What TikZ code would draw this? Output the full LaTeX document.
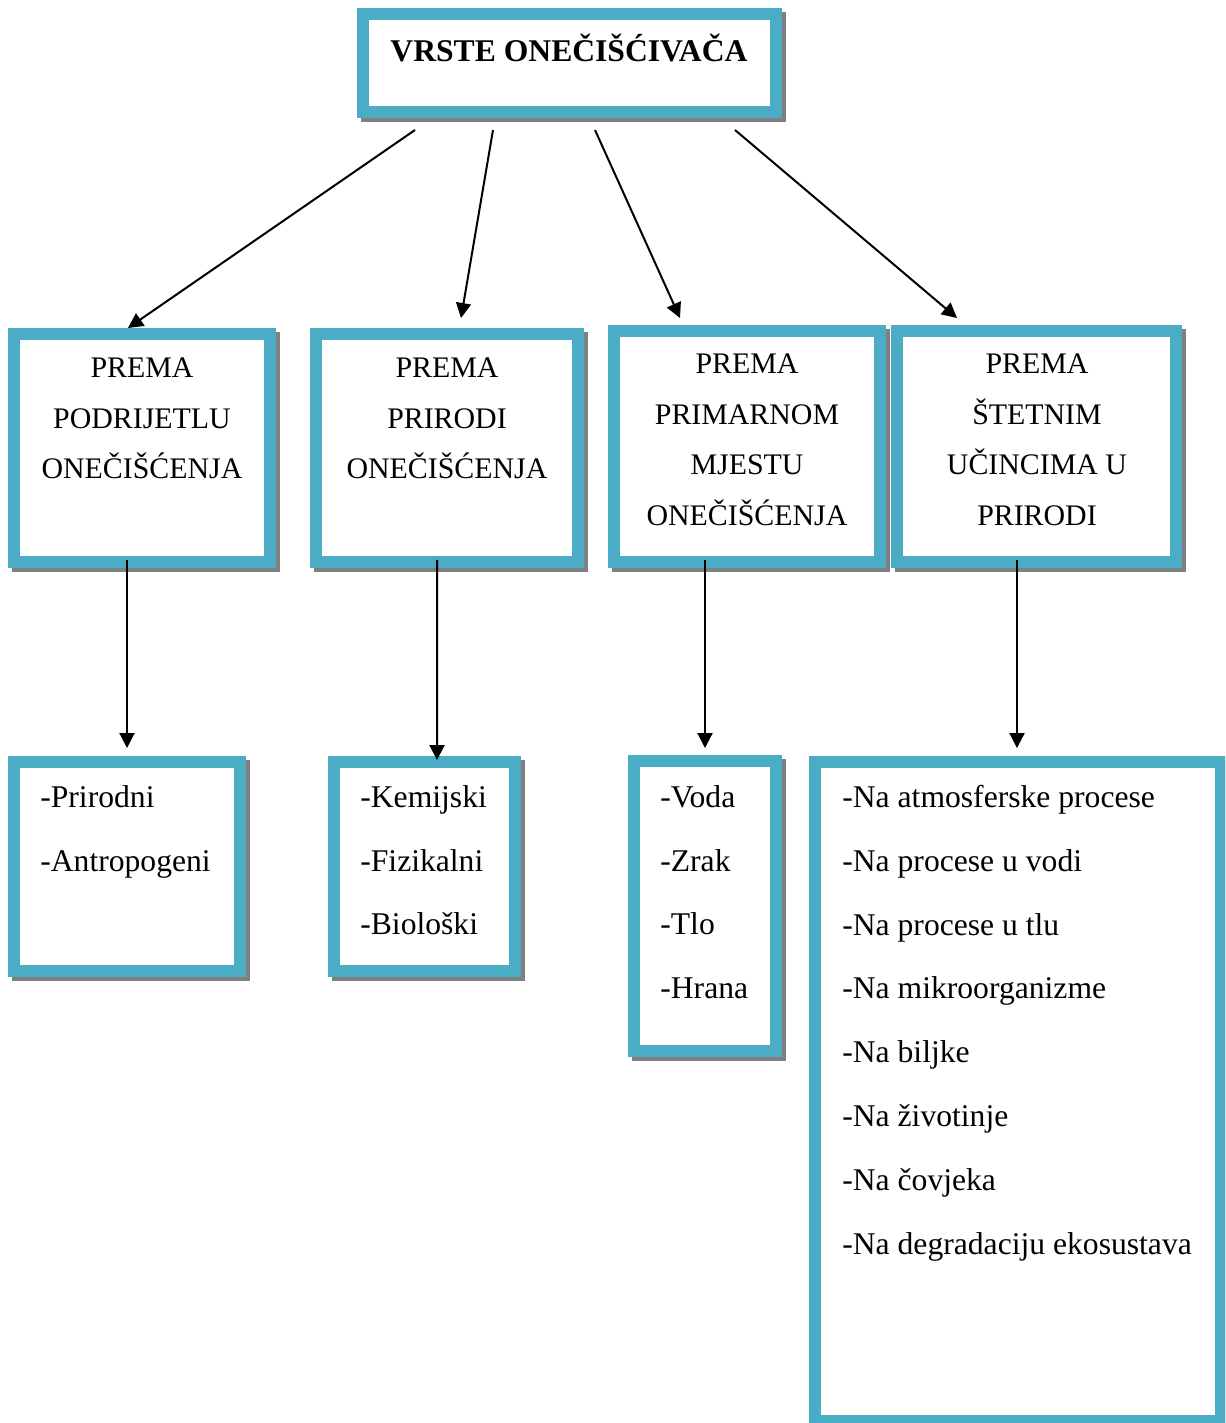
\documentclass[tikz,border=0pt]{standalone}
\usepackage{fontspec}
\setmainfont{Liberation Serif}
\usetikzlibrary{calc,arrows.meta}
\definecolor{okvir}{HTML}{4BACC6}
\definecolor{sjena}{HTML}{808080}

\begin{document}
\begin{tikzpicture}[x=0.02cm,y=-0.02cm,>={Triangle[length=0.3cm,width=0.3cm]}]
       \tikzstyle{frame} = [rectangle, draw=okvir, line width=0.24cm, fill=white, inner sep=0,
              preaction={draw=sjena, fill=sjena, line width=0.24cm, transform canvas={shift={(0.08cm,-0.08cm)}}}];
       \tikzstyle{label} = [inner sep=0, font=\fontsize{17pt}{29pt}\selectfont, align=center];
       \tikzstyle{list} = [inner sep=0, anchor=north west, font=\fontsize{18pt}{36.3pt}\selectfont, align=left];
       \tikzstyle{arrow} = [->, line width=0.04cm];
       \useasboundingbox (0,0) rectangle (1225,1423);
       \clip (0,0) rectangle (1225,1423);

       % okviri
       \node[frame, minimum width=8.26cm, minimum height=1.96cm] (vrste) at (569.5,63) {};
       \node[frame, minimum width=5.12cm, minimum height=4.56cm] (podrijetlo) at (142,448) {};
       \node[frame, minimum width=5.24cm, minimum height=4.56cm] (priroda) at (447,448) {};
       \node[frame, minimum width=5.32cm, minimum height=4.62cm] (mjesto) at (747,446.5) {};
       \node[frame, minimum width=5.58cm, minimum height=4.62cm] (ucinci) at (1036.5,446.5) {};
       \node[frame, minimum width=4.52cm, minimum height=4.18cm] (podrijetlo-l) at (127,866.5) {};
       \node[frame, minimum width=3.62cm, minimum height=4.18cm] (priroda-l) at (424.5,866.5) {};
       \node[frame, minimum width=2.84cm, minimum height=5.80cm] (mjesto-l) at (705,906) {};
       \node[frame, minimum width=8.12cm, minimum height=13.18cm] (ucinci-l) at (1018,1091.5) {};

       % tekst
       \node[label, anchor=base, font=\fontsize{18pt}{29pt}\selectfont\bfseries] (vrste-t) at (569,61) {VRSTE ONEČIŠĆIVAČA};
       \node[label, anchor=north] (podrijetlo-t) at (142,357) {PREMA\\PODRIJETLU\\ONEČIŠĆENJA};
       \node[label, anchor=north] (priroda-t) at (447,357) {PREMA\\PRIRODI\\ONEČIŠĆENJA};
       \node[label, anchor=north] (mjesto-t) at (747,353) {PREMA\\PRIMARNOM\\MJESTU\\ONEČIŠĆENJA};
       \node[label, anchor=north] (ucinci-t) at (1037,353) {PREMA\\ŠTETNIM\\UČINCIMA U\\PRIRODI};
       \node[list] (podrijetlo-lt) at (40,785) {-Prirodni\\-Antropogeni};
       \node[list] (priroda-lt) at (360,785) {-Kemijski\\-Fizikalni\\-Biološki};
       \node[list] (mjesto-lt) at (660,785) {-Voda\\-Zrak\\-Tlo\\-Hrana};
       \node[list] (ucinci-lt) at (842,785) {-Na atmosferske procese\\-Na procese u vodi\\-Na procese u tlu\\-Na mikroorganizme\\-Na biljke\\-Na životinje\\-Na čovjeka\\-Na degradaciju ekosustava};

       % strelice
       \draw[arrow] ($(vrste.south)+(-154.5,12)$) -- ($(podrijetlo.north)+(-14,0)$);
       \draw[arrow] ($(vrste.south)+(-76.5,12)$) -- ($(priroda.north)+(14,-10)$);
       \draw[arrow] ($(vrste.south)+(25.5,12)$) -- ($(mjesto.north)+(-67,-7)$);
       \draw[arrow] ($(vrste.south)+(165.5,12)$) -- ($(ucinci.north)+(-79.5,-7)$);

       \draw[arrow] ($(podrijetlo.south)+(-15,-8)$) -- ($(podrijetlo-l.north)+(0,-8)$);
       \draw[arrow] ($(priroda.south)+(-10,-8)$) -- ($(priroda-l.north)+(12.5,4)$);
       \draw[arrow] ($(mjesto.south)+(-42,-8)$) -- ($(mjesto-l.north)+(0,-7)$);
       \draw[arrow] ($(ucinci.south)+(-19.5,-8)$) -- ($(ucinci-l.north)+(-1,-8)$);
\end{tikzpicture}
\end{document}
